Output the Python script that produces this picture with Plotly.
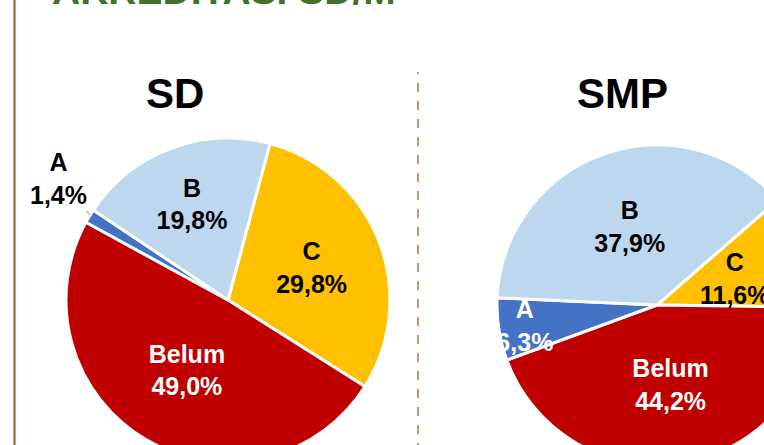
import plotly.graph_objects as go

# ---- data ----
slice_labels = ["C", "Belum", "A", "B"]
sd_values = [29.8, 49.0, 1.4, 19.8]
smp_values = [11.6, 44.2, 6.3, 37.9]
sd_text = ["C<br>29,8%", "Belum<br>49,0%", "", "B<br>19,8%"]
sd_a_label = "A<br>1,4%"
smp_text = ["", "Belum<br>44,2%", "A<br>6,3%", "B<br>37,9%"]
smp_c_label = "C<br>11,6%"
colors = ["#FFC000", "#C00000", "#4472C4", "#BDD7EE"]

W, H = 830, 470
FONT = "Arial, Liberation Sans"
FS = 25

def px_x(x):
    return x / W

def px_y(y):
    return 1 - y / H

fig = go.Figure()

fig.add_trace(go.Pie(
    labels=slice_labels, values=sd_values, text=sd_text,
    textinfo="text", texttemplate="%{text}", sort=False,
    direction="clockwise", rotation=15,
    marker=dict(colors=colors, line=dict(color="white", width=3)),
    textposition="inside",
    insidetextorientation="horizontal",
    textfont=dict(family=FONT, size=FS, weight="bold",
                  color=["black", "white", "black", "black"]),
    domain=dict(x=[px_x(66), px_x(390)], y=[px_y(462), px_y(138)]),
    showlegend=False, hoverinfo="skip",
))

fig.add_trace(go.Pie(
    labels=slice_labels, values=smp_values, text=smp_text,
    textinfo="text", texttemplate="%{text}", sort=False,
    direction="clockwise", rotation=49,
    marker=dict(colors=colors, line=dict(color="white", width=3)),
    textposition="inside",
    insidetextorientation="horizontal",
    textfont=dict(family=FONT, size=FS, weight="bold",
                  color=["black", "white", "white", "black"]),
    domain=dict(x=[px_x(497), px_x(817)], y=[px_y(465), px_y(145)]),
    showlegend=False, hoverinfo="skip",
))

annotations = [
    dict(text="AKREDITASI SD/M", x=px_x(50), y=px_y(14), xref="paper", yref="paper",
         xanchor="left", yanchor="bottom", showarrow=False,
         font=dict(family=FONT, size=39, weight="bold", color="#44702D")),
    dict(text="SD", x=px_x(175), y=px_y(94), xref="paper", yref="paper",
         xanchor="center", yanchor="middle", showarrow=False,
         font=dict(family=FONT, size=42, weight="bold", color="black")),
    dict(text="SMP", x=px_x(622), y=px_y(94), xref="paper", yref="paper",
         xanchor="center", yanchor="middle", showarrow=False,
         font=dict(family=FONT, size=42, weight="bold", color="black")),
    dict(text=smp_c_label, x=px_x(735), y=px_y(278), xref="paper", yref="paper",
         xanchor="center", yanchor="middle", showarrow=False,
         font=dict(family=FONT, size=FS, weight="bold", color="black")),
    dict(text=sd_a_label, x=px_x(90), y=px_y(215), xref="paper", yref="paper",
         showarrow=True, arrowhead=0, arrowwidth=1, arrowcolor="#8C8C8C",
         ax=-32, ay=-36, standoff=0,
         font=dict(family=FONT, size=FS, weight="bold", color="black")),
]

shapes = [
    dict(type="line", xref="paper", yref="paper", x0=px_x(14.5), x1=px_x(14.5), y0=0, y1=1,
         line=dict(color="#A0522D", width=2)),
    dict(type="line", xref="paper", yref="paper", x0=px_x(418), x1=px_x(418), y0=0, y1=px_y(72),
         line=dict(color="#B87345", width=1.5, dash="dash")),
]

fig.update_layout(
    width=W, height=H,
    margin=dict(l=0, r=0, t=0, b=0),
    paper_bgcolor="white", plot_bgcolor="white",
    annotations=annotations, shapes=shapes,
    uniformtext=dict(minsize=FS, mode="show"),
)

post = ("document.body.style.margin='0';document.body.style.overflow='hidden';"
        "document.documentElement.style.overflow='hidden';")
fig.write_html("out.html", post_script=post)
